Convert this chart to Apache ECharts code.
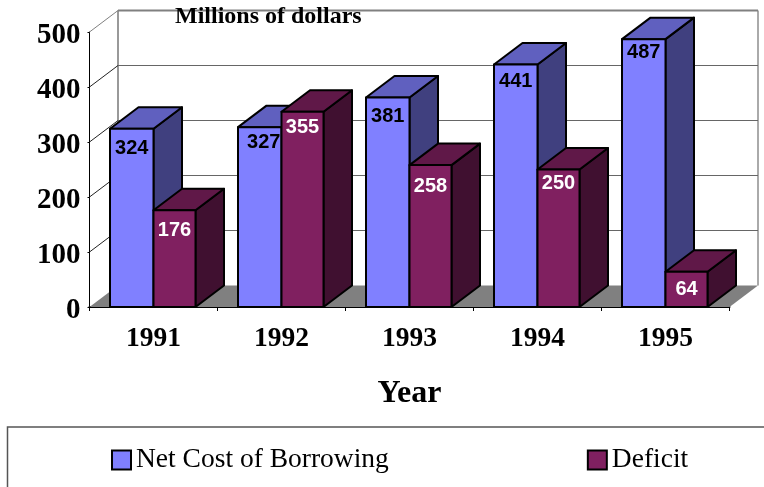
<!DOCTYPE html>
<html><head><meta charset="utf-8">
<style>html,body{margin:0;padding:0;background:#fff}#c{width:764px;height:487px}</style>
<script src="https://cdn.jsdelivr.net/npm/echarts@6/dist/echarts.min.js"></script>
</head><body><div id="c"></div>
<script>
const years = ['1991','1992','1993','1994','1995'];
const netCost = [324,327,381,441,487];
const deficit = [176,355,258,250,64];
const yTicks = [0,100,200,300,400,500];
// hand nudges of the value labels below the bar's top edge, as in the source chart
const netLabelDrop = [20,15,19,17,13];
const defLabelDrop = [20,16,21,14,18];
const netLabelShift = [0,4,0,0,0];

const DX = 28.5, DY = -21.5;
const serif = '"Liberation Serif","Times New Roman",serif';
const sans = '"Liberation Sans",Arial,sans-serif';

function bar3d(colors, side, barW, drops, shifts, labelColor){
  return function(params, api){
    const i = api.value(0), v = api.value(1);
    const top = api.coord([i, v]), base = api.coord([i, 0]);
    const cx = top[0];
    const x0 = side < 0 ? cx - barW : cx;
    const x1 = x0 + barW;
    const s = {stroke:'#000', lineWidth:2, lineJoin:'round'};
    const y0 = top[1], y1 = base[1];
    return {type:'group', children:[
      {type:'polygon', shape:{points:[[x1,y0],[x1+DX,y0+DY],[x1+DX,y1+DY],[x1,y1]]}, style:{fill:colors[1],...s}},
      {type:'polygon', shape:{points:[[x0,y0],[x0+DX,y0+DY],[x1+DX,y0+DY],[x1,y0]]}, style:{fill:colors[2],...s}},
      {type:'rect', shape:{x:x0,y:y0,width:barW,height:y1-y0}, style:{fill:colors[0],...s}},
      {type:'text', style:{x:(x0+x1)/2+(shifts?shifts[i]:0), y:y0+drops[i], text:String(v), fill:labelColor,
        font:'bold 20px '+sans, align:'center', verticalAlign:'middle'}}
    ]};
  };
}

function walls(params, api){
  const v = api.value(0);
  const band = api.size([1,0])[0];
  const a = api.coord([0,v]), b = api.coord([years.length-1,v]);
  const xl = a[0]-band/2, xr = b[0]+band/2, y = a[1];
  const grey = '#808080', kids = [];
  if (v === 0) {
    const top = api.coord([0,yTicks[yTicks.length-1]])[1];
    kids.push({type:'polygon', shape:{points:[[xl,y],[xl+DX,y+DY],[xr+DX,y+DY],[xr,y]]}, style:{fill:grey}});
    kids.push({type:'line', shape:{x1:xl+DX,y1:y+DY,x2:xl+DX,y2:top+DY}, style:{stroke:'#999',lineWidth:2}});
    kids.push({type:'line', shape:{x1:xr+DX,y1:y+DY,x2:xr+DX,y2:top+DY}, style:{stroke:'#aaa',lineWidth:2}});
  } else {
    const isTop = v === yTicks[yTicks.length-1];
    kids.push({type:'line', shape:{x1:xl,y1:y,x2:xl+DX,y2:y+DY}, style:{stroke:isTop?grey:'#222',lineWidth:1}});
    kids.push({type:'line', shape:{x1:xl+DX,y1:y+DY,x2:xr+DX,y2:y+DY}, style:{stroke:isTop?grey:'#666',lineWidth:isTop?2:1.2}});
  }
  return {type:'group', children:kids};
}

const chart = echarts.init(document.getElementById('c'), null, {renderer:'canvas'});
chart.setOption({
  animation:false,
  backgroundColor:'#fff',
  title:{text:'Millions of dollars', left:175, top:5, padding:0,
    textStyle:{fontFamily:serif, fontWeight:'bold', fontSize:24, color:'#000'}},
  grid:{left:89.5, right:34.5, top:32, bottom:180, containLabel:false},
  legend:{left:106, top:441, itemWidth:19, itemHeight:19, itemGap:198, icon:'rect',
    data:['Net Cost of Borrowing','Deficit'],
    textStyle:{fontFamily:serif, fontSize:27.5, color:'#000'}},
  graphic:[{type:'rect', shape:{x:7.5,y:427,width:800,height:120}, style:{fill:'none',stroke:'#555',lineWidth:1.5}, silent:true}],
  xAxis:{type:'category', data:years, name:'Year', nameLocation:'middle', nameGap:71,
    nameTextStyle:{fontFamily:serif, fontWeight:'bold', fontSize:32, color:'#000'},
    axisLine:{lineStyle:{color:'#000',width:2}},
    axisTick:{show:true, alignWithLabel:false, length:4, lineStyle:{color:'#000',width:1}},
    axisLabel:{fontFamily:serif, fontWeight:'bold', fontSize:27.5, color:'#000', margin:18},
    splitLine:{show:false}},
  yAxis:{type:'value', min:0, max:500, interval:100,
    axisLine:{show:true, lineStyle:{color:'#000',width:1}},
    axisTick:{show:true, length:2, lineStyle:{color:'#000'}},
    axisLabel:{fontFamily:serif, fontWeight:'bold', fontSize:29, color:'#000', margin:9, verticalAlign:'top', lineHeight:7},
    splitLine:{show:false}},
  series:[
    {type:'custom', name:'walls', silent:true, data:yTicks.map(v=>[v]), encode:{y:0}, renderItem:walls, clip:false, z:1},
    {type:'custom', name:'Net Cost of Borrowing', z:2, clip:false,
      itemStyle:{color:'#8080FF', borderColor:'#000', borderWidth:2},
      data:netCost.map((v,i)=>[i,v]), encode:{x:0,y:1},
      renderItem:bar3d(['#8080FF','#40407F','#6060BF'],-1,43.5,netLabelDrop,netLabelShift,'#000')},
    {type:'custom', name:'Deficit', z:3, clip:false,
      itemStyle:{color:'#802060', borderColor:'#000', borderWidth:2},
      data:deficit.map((v,i)=>[i,v]), encode:{x:0,y:1},
      renderItem:bar3d(['#802060','#401030','#601848'],1,42,defLabelDrop,null,'#fff')}
  ]
});
</script></body></html>
